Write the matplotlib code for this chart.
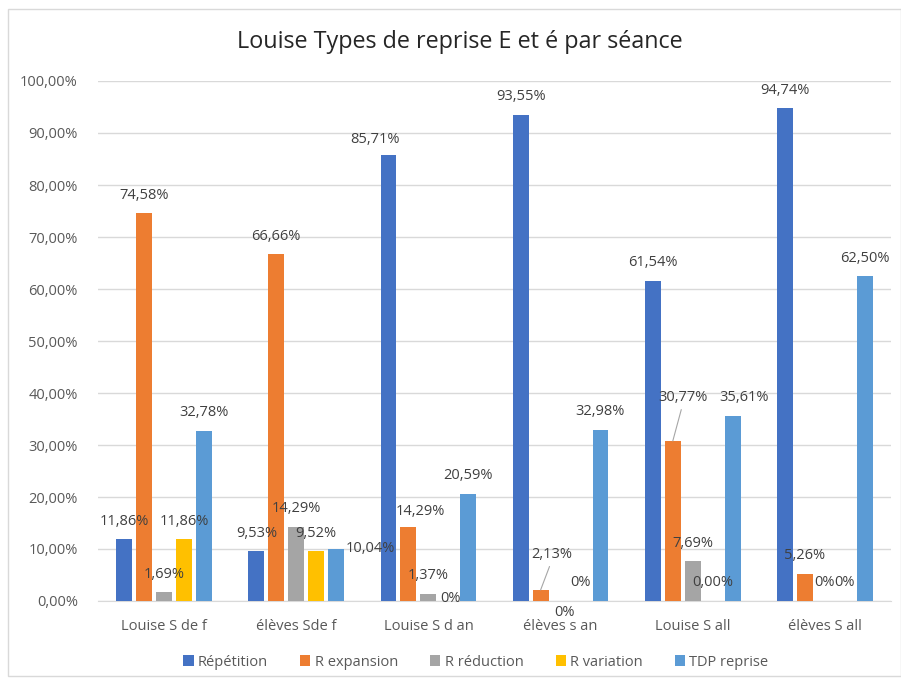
import matplotlib
matplotlib.use("Agg")
import matplotlib.pyplot as plt
from matplotlib.patches import Rectangle
import numpy as np

categories = ["Louise S de f", "élèves Sde f", "Louise S d an", "élèves s an", "Louise S all", "élèves S all"]
series_names = ["Répétition", "R expansion", "R réduction", "R variation", "TDP reprise"]
repetition = [11.86, 9.53, 85.71, 93.55, 61.54, 94.74]
r_expansion = [74.58, 66.66, 14.29, 2.13, 30.77, 5.26]
r_reduction = [1.69, 14.29, 1.37, 0.0, 7.69, 0.0]
r_variation = [11.86, 9.52, 0.0, 0.0, 0.0, 0.0]
tdp_reprise = [32.78, 10.04, 20.59, 32.98, 35.61, 62.50]
labels = [
    ["11,86%", "9,53%", "85,71%", "93,55%", "61,54%", "94,74%"],
    ["74,58%", "66,66%", "14,29%", "2,13%", "30,77%", "5,26%"],
    ["1,69%", "14,29%", "1,37%", "0%", "7,69%", "0%"],
    ["11,86%", "9,52%", "0%", "0%", "0,00%", "0%"],
    ["32,78%", "10,04%", "20,59%", "32,98%", "35,61%", "62,50%"],
]
yticks = [0, 10, 20, 30, 40, 50, 60, 70, 80, 90, 100]
ytick_labels = ["0,00%", "10,00%", "20,00%", "30,00%", "40,00%", "50,00%",
                "60,00%", "70,00%", "80,00%", "90,00%", "100,00%"]

values = [repetition, r_expansion, r_reduction, r_variation, tdp_reprise]
colors = ["#4472C4", "#ED7D31", "#A5A5A5", "#FFC000", "#5B9BD5"]

FONT = ["Open Sans", "DejaVu Sans"]
plt.rcParams["font.family"] = FONT

W, H = 901, 683
fig = plt.figure(figsize=(W / 100, H / 100), dpi=100)
fig.patch.set_facecolor("white")

# chart border
fig.add_artist(Rectangle((8 / W, 7 / H), (W - 8) / W, (H - 16) / H, transform=fig.transFigure,
                         fill=False, edgecolor="#D9D9D9", lw=1.0))

left, right, bottom, top = 98, 891, 601, 81
ax = fig.add_axes([left / W, 1 - bottom / H, (right - left) / W, (bottom - top) / H])

x = np.arange(len(categories))
bw = 0.121
step = 0.151
for i, (vals, c, name) in enumerate(zip(values, colors, series_names)):
    ax.bar(x + (i - 2) * step, vals, width=bw, color=c, label=name, zorder=3)

ax.set_xlim(-0.5, len(categories) - 0.5)
ax.set_ylim(0, 100)
ax.set_yticks(yticks)
ax.set_yticklabels(ytick_labels)
ax.set_xticks(x)
ax.set_xticklabels(categories)
ax.tick_params(axis="both", length=0, colors="#595959", labelsize=10.5)
ax.tick_params(axis="y", pad=14.5)
ax.tick_params(axis="x", pad=13)
ax.grid(axis="y", color="#D9D9D9", lw=1.0, zorder=0)
for s in ["top", "right", "left"]:
    ax.spines[s].set_visible(False)
ax.spines["bottom"].set_color("#D9D9D9")
ax.spines["bottom"].set_zorder(1)

# label offsets (pixels, dx right, dy up) relative to bar top; default (0, 18)
custom = {
    (4, 1): (34, 0),
    (0, 2): (-14, 16),
    (1, 2): (12, 15),
    (3, 2): (2, 3),
    (1, 3): (11, 35),
    (2, 3): (4, -12),
    (1, 4): (10, 43),
    (4, 4): (11, 18),
}
leaders = {(1, 3), (1, 4)}
px2pt = 0.72
for i, vals in enumerate(values):
    for j, v in enumerate(vals):
        dx, dy = custom.get((i, j), (0, 18))
        xp = x[j] + (i - 2) * step
        kw = {}
        if (i, j) in leaders:
            kw["arrowprops"] = dict(arrowstyle="-", color="#A6A6A6", lw=0.8,
                                    shrinkA=1, shrinkB=0, relpos=(0.5, 0.1))
        ax.annotate(labels[i][j], xy=(xp, v), xytext=(dx * px2pt, dy * px2pt),
                    textcoords="offset points", ha="center", va="center",
                    fontsize=10.5, color="#404040", zorder=5, annotation_clip=False, **kw)

fig.text(460 / W, 1 - 42 / H, "Louise Types de reprise E et é par séance",
         ha="center", va="center", fontsize=16.8, color="#262626")

handles, lbls = ax.get_legend_handles_labels()
fig.legend(handles, lbls, loc="center", bbox_to_anchor=(476 / W, 1 - 662 / H), ncol=5,
           frameon=False, fontsize=10.5, labelcolor="#595959",
           handlelength=0.7, handleheight=0.7, handletextpad=0.3, columnspacing=2.2)

fig.savefig("out.png", dpi=100, facecolor="white")
